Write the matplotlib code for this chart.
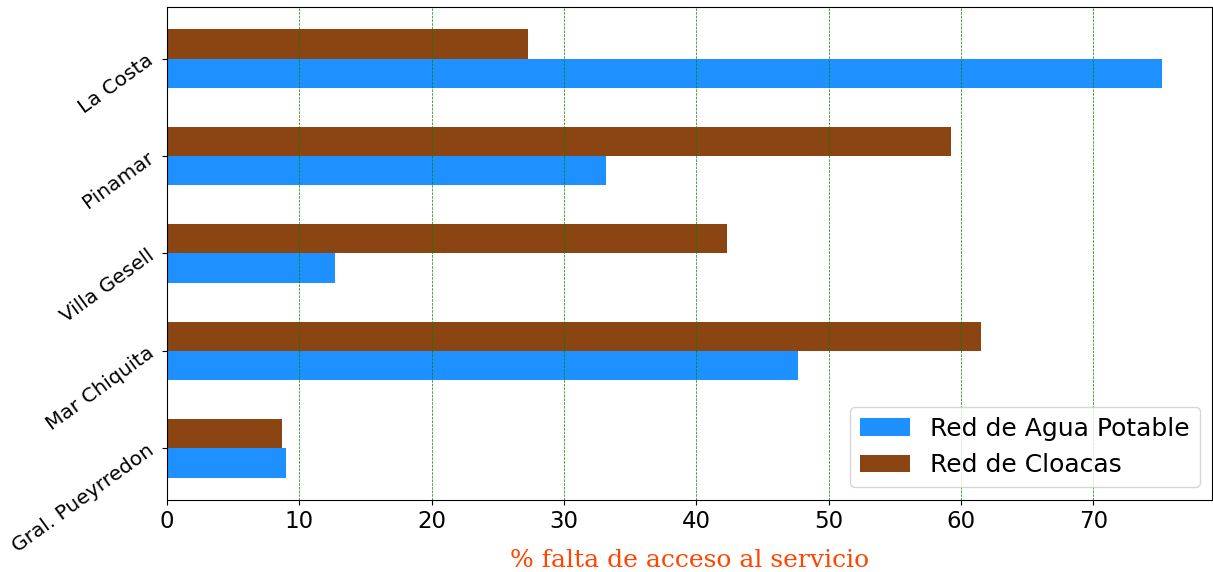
import matplotlib
matplotlib.use("Agg")
import matplotlib.pyplot as plt
import numpy as np

categories = ["Gral. Pueyrredon", "Mar Chiquita", "Villa Gesell", "Pinamar", "La Costa"]
agua = [9.0, 47.7, 12.7, 33.2, 75.2]
cloacas = [8.65, 61.5, 42.3, 59.2, 27.3]
series_labels = ["Red de Agua Potable", "Red de Cloacas"]

fig = plt.figure(figsize=(12.13, 5.72), dpi=100)
ax = fig.add_axes([0.1377, 0.126, 0.8615, 0.8618])

y = np.arange(len(categories))
h = 0.3
ax.barh(y - h / 2, agua, height=h, color="dodgerblue", label=series_labels[0])
ax.barh(y + h / 2, cloacas, height=h, color="saddlebrown", label=series_labels[1])

ax.set_yticks(y)
ax.set_yticklabels(categories, rotation=36, fontsize=14.5)
ax.tick_params(axis="x", labelsize=16.5)
ax.grid(axis="x", color="green", linestyle="--", linewidth=0.5)
ax.set_xlabel("% falta de acceso al servicio", family="DejaVu Serif", color="orangered",
              fontsize=18, labelpad=12)
ax.legend(loc="lower right", fontsize=18)

fig.savefig("out.png", dpi=100)
